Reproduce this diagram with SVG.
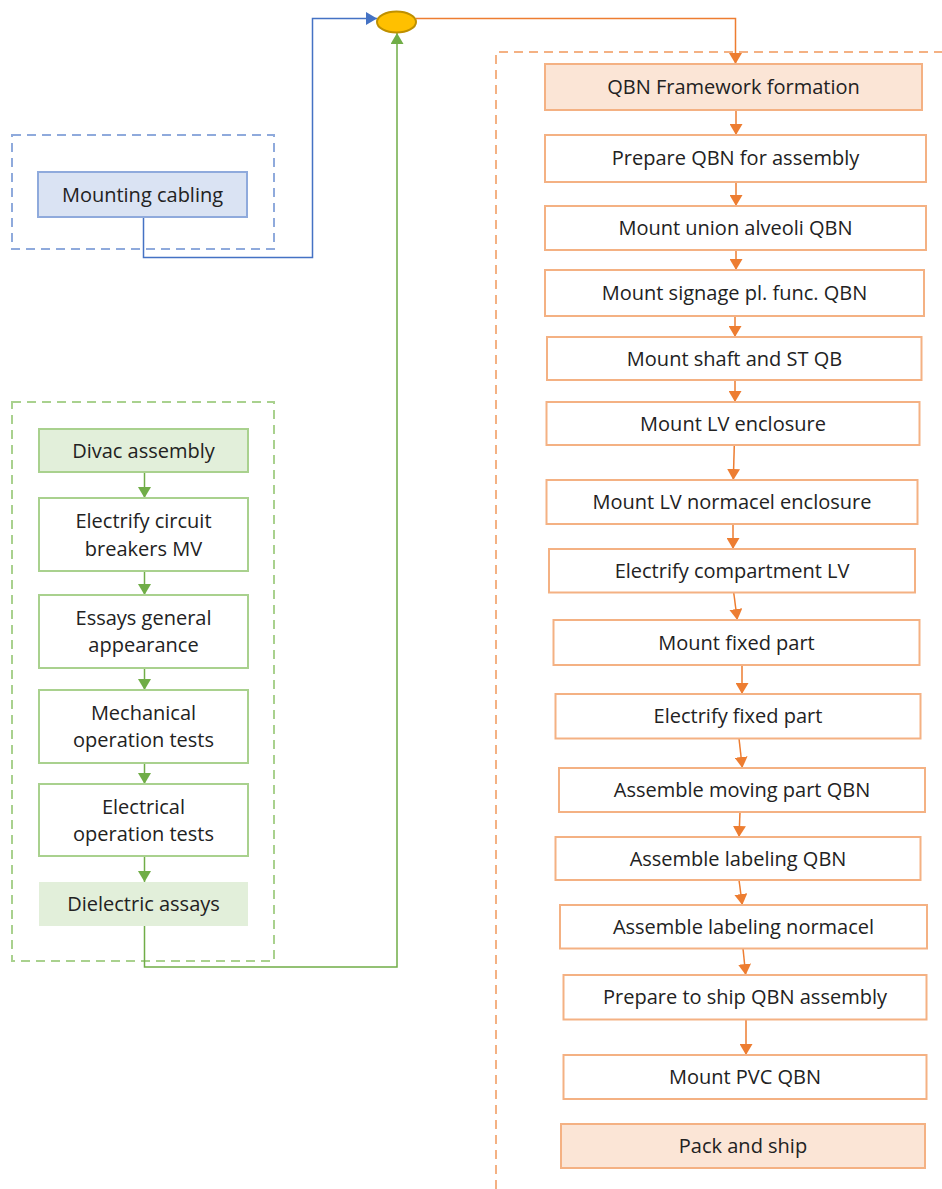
<svg xmlns="http://www.w3.org/2000/svg" width="942" height="1189" viewBox="0 0 942 1189">
<defs>
<marker id="aO" markerUnits="userSpaceOnUse" markerWidth="12" markerHeight="13" refX="11" refY="6.5" orient="auto"><path d="M0,0 L11,6.5 L0,13 z" fill="#ED7D31"/></marker>
<marker id="aG" markerUnits="userSpaceOnUse" markerWidth="12" markerHeight="13" refX="11" refY="6.5" orient="auto"><path d="M0,0 L11,6.5 L0,13 z" fill="#70AD47"/></marker>
<marker id="aB" markerUnits="userSpaceOnUse" markerWidth="12" markerHeight="13" refX="11" refY="6.5" orient="auto"><path d="M0,0 L11,6.5 L0,13 z" fill="#4472C4"/></marker>
</defs>
<style>
text{font-family:"Open Sans","Liberation Sans",sans-serif;font-size:20px;fill:#222222;text-anchor:middle}
.o{fill:#FFFFFF;stroke:#F4B183;stroke-width:2}
.oh{fill:#FBE5D6;stroke:#F4B183;stroke-width:2}
.g{fill:#FFFFFF;stroke:#A9D18E;stroke-width:2}
.gh{fill:#E2EFDA;stroke:#A9D18E;stroke-width:2}
.b{fill:#DAE3F3;stroke:#8FAADC;stroke-width:2}
.co{fill:none;stroke:#ED7D31;stroke-width:1.5;marker-end:url(#aO)}
.cg{fill:none;stroke:#70AD47;stroke-width:1.5;marker-end:url(#aG)}
.cb{fill:none;stroke:#4472C4;stroke-width:1.5;marker-end:url(#aB)}
.dash{fill:none;stroke-width:2;stroke-dasharray:9,6}
</style>
<rect width="942" height="1189" fill="#FFFFFF"/>
<g id="containers">
<rect x="12" y="135" width="262" height="114" class="dash" stroke="#8FAADC"/>
<rect x="12" y="402" width="262" height="559" class="dash" stroke="#A9D18E"/>
<path d="M496,1189 V52 H942" class="dash" stroke="#F4B183"/>
</g>
<g id="connectors">
<path class="cb" d="M143.5,217 V257.5 H312.5 V18.5 H377"/>
<path class="cg" d="M144.5,926 V967 H397 V33"/>
<path class="co" d="M416,18.5 H735.5 V64"/>
<path class="cg" d="M144.5,472 V498"/>
<path class="cg" d="M144.5,571 V595"/>
<path class="cg" d="M144.5,668 V690"/>
<path class="cg" d="M144.5,763 V784"/>
<path class="cg" d="M144.5,856 V882"/>
<path class="co" d="M736,110 V135"/>
<path class="co" d="M736,182 V206"/>
<path class="co" d="M736,250 V270"/>
<path class="co" d="M735,316 V337"/>
<path class="co" d="M735,380 V402"/>
<path class="co" d="M734.3,445 L733.3,480"/>
<path class="co" d="M733,524 V549"/>
<path class="co" d="M733.7,592.5 L737.3,620"/>
<path class="co" d="M742,665 V694"/>
<path class="co" d="M739,738.5 L742.3,768"/>
<path class="co" d="M740,812 L739,837"/>
<path class="co" d="M739,880 L742.3,905"/>
<path class="co" d="M743,948.5 L745.7,975"/>
<path class="co" d="M746,1019.5 V1055"/>
</g>
<g id="merge"><ellipse cx="396.5" cy="22" rx="19.5" ry="10.5" fill="#FFC000" stroke="#BF9000" stroke-width="2"/></g>
<g id="mounting-cabling"><rect x="38" y="172" width="209" height="45" class="b"/><text x="142.5" y="201.5">Mounting cabling</text></g>
<g id="divac-assembly"><rect x="39" y="429" width="209" height="43" class="gh"/><text x="143.5" y="457.5">Divac assembly</text></g>
<g id="electrify-circuit-breakers"><rect x="39" y="498" width="209" height="73" class="g"/><text x="143.5" y="528">Electrify circuit</text><text x="143.5" y="555.5">breakers MV</text></g>
<g id="essays-general-appearance"><rect x="39" y="595" width="209" height="73" class="g"/><text x="143.5" y="625">Essays general</text><text x="143.5" y="652">appearance</text></g>
<g id="mechanical-operation-tests"><rect x="39" y="690" width="209" height="73" class="g"/><text x="143.5" y="720">Mechanical</text><text x="143.5" y="747">operation tests</text></g>
<g id="electrical-operation-tests"><rect x="39" y="784" width="209" height="72" class="g"/><text x="143.5" y="814">Electrical</text><text x="143.5" y="841">operation tests</text></g>
<g id="dielectric-assays"><rect x="39" y="882" width="209" height="44" fill="#E2EFDA"/><text x="143.5" y="911">Dielectric assays</text></g>
<g id="qbn-framework"><rect x="545" y="64" width="377" height="46" class="oh"/><text x="733.5" y="94">QBN Framework formation</text></g>
<g id="prepare-qbn"><rect x="545" y="135" width="381" height="47" class="o"/><text x="735.5" y="165">Prepare QBN for assembly</text></g>
<g id="mount-union"><rect x="545" y="206" width="381" height="44" class="o"/><text x="735.5" y="235">Mount union alveoli QBN</text></g>
<g id="mount-signage"><rect x="545" y="270" width="379" height="46" class="o"/><text x="734.5" y="300">Mount signage pl. func. QBN</text></g>
<g id="mount-shaft"><rect x="547" y="337" width="374.5" height="43" class="o"/><text x="734.5" y="365.5">Mount shaft and ST QB</text></g>
<g id="mount-lv-enclosure"><rect x="546.5" y="402" width="373" height="43" class="o"/><text x="733" y="430.5">Mount LV enclosure</text></g>
<g id="mount-lv-normacel"><rect x="546.5" y="480" width="371" height="44" class="o"/><text x="732" y="509">Mount LV normacel enclosure</text></g>
<g id="electrify-compartment"><rect x="549" y="549" width="366" height="43.5" class="o"/><text x="732" y="578">Electrify compartment LV</text></g>
<g id="mount-fixed-part"><rect x="553.5" y="620" width="366" height="45" class="o"/><text x="736.5" y="649.5">Mount fixed part</text></g>
<g id="electrify-fixed-part"><rect x="555.5" y="694" width="365" height="44.5" class="o"/><text x="738" y="723">Electrify fixed part</text></g>
<g id="assemble-moving-part"><rect x="559" y="768" width="366" height="44" class="o"/><text x="742" y="797">Assemble moving part QBN</text></g>
<g id="assemble-labeling-qbn"><rect x="555.5" y="837" width="365" height="43" class="o"/><text x="738" y="865.5">Assemble labeling QBN</text></g>
<g id="assemble-labeling-normacel"><rect x="560" y="905" width="367" height="43.5" class="o"/><text x="743.5" y="934">Assemble labeling normacel</text></g>
<g id="prepare-to-ship"><rect x="563.5" y="975" width="363" height="44.5" class="o"/><text x="745" y="1004">Prepare to ship QBN assembly</text></g>
<g id="mount-pvc"><rect x="563.5" y="1055" width="363" height="44" class="o"/><text x="745" y="1084">Mount PVC QBN</text></g>
<g id="pack-and-ship"><rect x="561" y="1124" width="364" height="44" class="oh"/><text x="743" y="1153">Pack and ship</text></g>
</svg>
